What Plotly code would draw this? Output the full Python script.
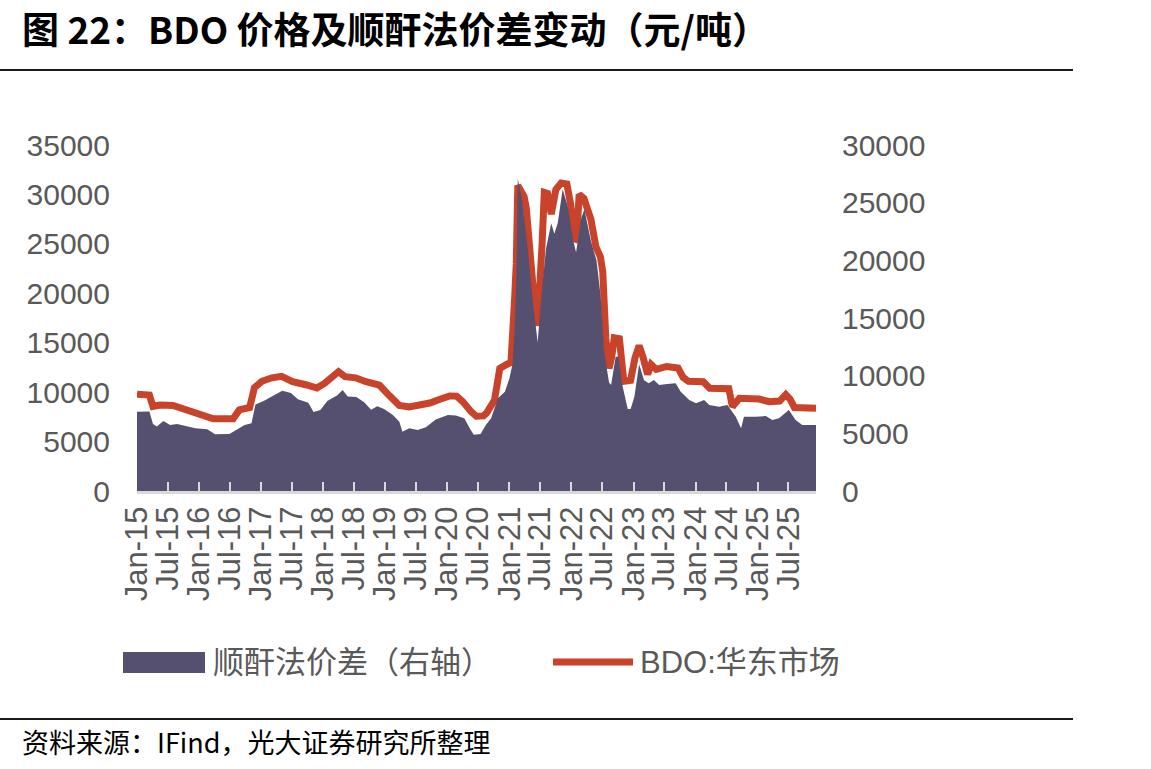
import plotly.graph_objects as go

# ---------------- data ----------------
bdo_dates = [
    "2015-01-01", "2015-03-15", "2015-04-05", "2015-05-15", "2015-08-01", "2015-09-25", "2015-11-25",
    "2016-02-10", "2016-03-25", "2016-07-20", "2016-08-25", "2016-10-25", "2016-11-22",
    "2017-01-05", "2017-03-05", "2017-05-01", "2017-07-05", "2017-09-20", "2017-11-25",
    "2018-01-10", "2018-02-20", "2018-04-01", "2018-05-10", "2018-07-10", "2018-09-10", "2018-11-28",
    "2019-01-25", "2019-03-25", "2019-05-22", "2019-07-20", "2019-09-20", "2019-11-15",
    "2020-01-15", "2020-02-25", "2020-04-01", "2020-05-20", "2020-06-20", "2020-08-01", "2020-08-20",
    "2020-10-05", "2020-11-05", "2020-12-15",
    "2021-01-10", "2021-02-01", "2021-02-10", "2021-02-19", "2021-03-10", "2021-03-28", "2021-04-10",
    "2021-05-07", "2021-05-18", "2021-06-16", "2021-07-04", "2021-07-12", "2021-07-25", "2021-08-13",
    "2021-09-04", "2021-10-01", "2021-11-01", "2021-12-05", "2021-12-28",
    "2022-01-19", "2022-02-01", "2022-02-15", "2022-03-15", "2022-04-25", "2022-05-25", "2022-06-20",
    "2022-07-04", "2022-07-22", "2022-08-10", "2022-08-25", "2022-09-10", "2022-10-10", "2022-11-05",
    "2022-12-15",
    "2023-01-10", "2023-02-03", "2023-02-25", "2023-03-25", "2023-04-15", "2023-05-15", "2023-07-15",
    "2023-09-20", "2023-10-20", "2023-11-20",
    "2024-02-15", "2024-03-25", "2024-07-15", "2024-08-05", "2024-09-15",
    "2025-01-10", "2025-03-10", "2025-05-10", "2025-06-15", "2025-07-10", "2025-08-05", "2025-12-10",
]
bdo_price = [
    9800, 9700, 8550, 8700, 8650, 8370, 7950,
    7700, 7300, 7300, 8200, 8450, 10450,
    11100, 11450, 11600, 11060, 10750, 10420,
    10900, 11570, 12070, 11560, 11450, 11050, 10700,
    9650, 8650, 8500, 8650, 8900, 9250,
    9620, 9600, 9040, 8030, 7560, 7600, 7900,
    9200, 12400, 12800,
    13000, 19700, 23000, 30900, 30300, 29800, 28600,
    22900, 21000, 16700, 21300, 25000, 30200, 30100,
    28000, 30500, 31150, 31050, 28900,
    25300, 25500, 30000, 29600, 27500, 24700, 23700,
    22200, 15500, 12400, 13500, 15500, 15400, 11100,
    11200,
    13500, 14700, 13600, 11800, 12800, 12300, 12600,
    12450, 11500, 11100,
    11060, 10400, 10350, 8530, 9380,
    9300, 9040, 9100, 9750, 9300, 8450, 8370,
]

spread_dates = [
    "2015-01-01", "2015-03-15", "2015-04-05", "2015-04-28", "2015-06-05", "2015-07-15", "2015-08-25",
    "2015-10-20", "2015-12-10",
    "2016-02-18", "2016-04-05", "2016-06-28", "2016-08-05", "2016-09-25", "2016-11-05", "2016-11-28",
    "2017-01-15", "2017-03-20", "2017-05-05", "2017-06-25", "2017-08-05", "2017-10-05", "2017-11-05",
    "2017-12-15",
    "2018-01-25", "2018-03-25", "2018-04-25", "2018-05-25", "2018-07-15", "2018-08-30", "2018-10-10",
    "2018-11-15", "2018-12-25",
    "2019-02-15", "2019-03-25", "2019-04-12", "2019-05-22", "2019-07-10", "2019-08-28", "2019-10-25",
    "2020-01-05", "2020-02-20", "2020-04-10", "2020-05-18", "2020-06-05", "2020-07-15", "2020-08-15",
    "2020-09-15", "2020-10-25", "2020-12-05",
    "2021-01-01", "2021-01-20", "2021-02-01", "2021-02-10", "2021-02-19", "2021-03-18", "2021-04-18",
    "2021-05-16", "2021-06-16", "2021-07-04", "2021-08-04", "2021-09-04", "2021-09-22", "2021-10-12",
    "2021-10-22", "2021-11-10", "2021-12-10",
    "2022-01-10", "2022-01-28", "2022-02-28", "2022-03-18", "2022-04-25", "2022-05-28", "2022-06-22",
    "2022-07-12", "2022-08-10", "2022-08-22", "2022-09-18", "2022-10-05", "2022-10-25", "2022-11-28",
    "2022-12-15",
    "2023-01-06", "2023-02-03", "2023-03-04", "2023-04-01", "2023-05-01", "2023-06-01", "2023-07-18",
    "2023-09-06", "2023-10-06", "2023-11-25",
    "2024-01-04", "2024-02-20", "2024-03-22", "2024-05-18", "2024-07-06", "2024-08-25", "2024-09-25",
    "2024-10-12", "2024-12-20",
    "2025-02-18", "2025-03-28", "2025-05-06", "2025-07-03", "2025-08-12", "2025-09-20", "2025-12-10",
]
spread_values = [
    6880, 6900, 5800, 5600, 6070, 5720, 5800,
    5640, 5430,
    5350, 4920, 4950, 5290, 5720, 5870, 7500,
    7800, 8350, 8700, 8500, 7950, 7650, 6850,
    7020,
    7800, 8300, 8760, 8200, 8150, 7700, 7050,
    7350, 7100,
    6590, 6000, 5140, 5430, 5290, 5520, 6210,
    6590, 6550, 6300, 5290, 4880, 4950, 5720,
    6300, 8040, 8610,
    9770, 11070, 14390, 18290, 27100, 25000, 21100,
    16800, 12870, 16300, 21000, 23210, 22300, 23210,
    24220, 26170, 24700,
    21800, 20700, 23700, 24400, 21700, 20000, 16850,
    12100, 9400, 9190, 11640, 11640, 9340, 7100,
    7100,
    8180, 11000, 9600, 9340, 9620, 9190, 9280,
    9340, 8610, 7890,
    7600, 7890, 7460, 7310, 7460, 6440, 5430,
    6440, 6440,
    6500, 6150, 6300, 7020, 6150, 5720, 5720,
]

tick_dates = [f"{y}-{m:02d}-01" for y in range(2015, 2026) for m in (1, 7)]
tick_labels = [f"{mon}-{str(y)[2:]}" for y in range(2015, 2026) for mon in ("Jan", "Jul")]

left_ticks = [0, 5000, 10000, 15000, 20000, 25000, 30000, 35000]
left_labels = ["0", "5000", "10000", "15000", "20000", "25000", "30000", "35000"]
right_ticks = [0, 5000, 10000, 15000, 20000, 25000, 30000]
right_labels = ["0", "5000", "10000", "15000", "20000", "25000", "30000"]

title_text = "图 22：BDO 价格及顺酐法价差变动（元/吨）"
source_text = "资料来源：IFind，光大证券研究所整理"
spread_name = "顺酐法价差（右轴）"
bdo_name = "BDO:华东市场"

# ---------------- styling ----------------
W, H = 1151, 769
L, R, T, B = 137, 335, 145, 278
PW, PH = W - L - R, H - T - B
BAR_COLOR = "#55506F"
LINE_COLOR = "#C8432A"
GREY = "#595959"
CJK = "Noto Sans CJK SC"
NUM = "Liberation Sans, Arial"
LEG = "Liberation Sans, Noto Sans CJK SC"


def px(xp):
    return (xp - L) / PW


def py(yp):
    return (H - B - yp) / PH


fig = go.Figure()
fig.add_trace(go.Scatter(
    x=spread_dates, y=spread_values, yaxis="y2", mode="lines",
    line=dict(width=0, color=BAR_COLOR), fill="tozeroy", fillcolor=BAR_COLOR,
    name=spread_name, showlegend=False,
))
fig.add_trace(go.Scatter(
    x=bdo_dates, y=bdo_price, yaxis="y", mode="lines",
    line=dict(width=7, color=LINE_COLOR), name=bdo_name, showlegend=False,
))

fig.update_layout(
    width=W, height=H,
    margin=dict(l=L, r=R, t=T, b=B, pad=0),
    paper_bgcolor="white", plot_bgcolor="white",
    xaxis=dict(
        type="date", range=["2015-01-01", "2025-12-10"],
        tickmode="array", tickvals=tick_dates, ticktext=tick_labels,
        tickangle=-90, ticks="inside", ticklen=9, tickwidth=2, tickcolor="#D9D9D9",
        showline=True, linecolor="#D9D9D9", linewidth=3,
        showgrid=False, zeroline=False,
        tickfont=dict(family=NUM, size=31, color=GREY),
    ),
    yaxis=dict(
        range=[0, 35000], tickmode="array", tickvals=left_ticks, ticktext=left_labels,
        showgrid=False, zeroline=False,
        showline=False, ticks="", ticklabelstandoff=26,
        tickfont=dict(family=NUM, size=30, color=GREY),
    ),
    yaxis2=dict(
        range=[0, 30000], tickmode="array", tickvals=right_ticks, ticktext=right_labels,
        overlaying="y", side="right",
        showgrid=False, zeroline=False, showline=False, ticks="", ticklabelstandoff=25,
        tickfont=dict(family=NUM, size=30, color=GREY),
    ),
)

shapes = [
    # title rule and footer rule
    dict(type="line", xref="paper", yref="paper", x0=px(0), x1=px(1073), y0=py(70), y1=py(70),
         line=dict(color="#1A1A1A", width=2)),
    dict(type="line", xref="paper", yref="paper", x0=px(0), x1=px(1073), y0=py(719), y1=py(719),
         line=dict(color="#1A1A1A", width=2)),
    # legend symbols
    dict(type="rect", xref="paper", yref="paper", x0=px(123), x1=px(205), y0=py(652), y1=py(673),
         line=dict(width=0), fillcolor=BAR_COLOR),
    dict(type="line", xref="paper", yref="paper", x0=px(553), x1=px(633), y0=py(662), y1=py(662),
         line=dict(color=LINE_COLOR, width=7)),
]

annotations = [
    dict(text=f"<b>{title_text}</b>", xref="paper", yref="paper", x=px(20), y=py(28),
         xanchor="left", yanchor="middle", showarrow=False,
         font=dict(family=CJK, size=37, color="#000000")),
    dict(text=spread_name, xref="paper", yref="paper", x=px(211), y=py(662),
         xanchor="left", yanchor="middle", showarrow=False,
         font=dict(family=LEG, size=31, color=GREY)),
    dict(text=bdo_name, xref="paper", yref="paper", x=px(638), y=py(662),
         xanchor="left", yanchor="middle", showarrow=False,
         font=dict(family=LEG, size=31, color=GREY)),
    dict(text=source_text, xref="paper", yref="paper", x=px(20), y=py(741),
         xanchor="left", yanchor="middle", showarrow=False,
         font=dict(family=CJK, size=27, color="#000000")),
]

fig.update_layout(shapes=shapes, annotations=annotations)
fig.write_html("out.html")
